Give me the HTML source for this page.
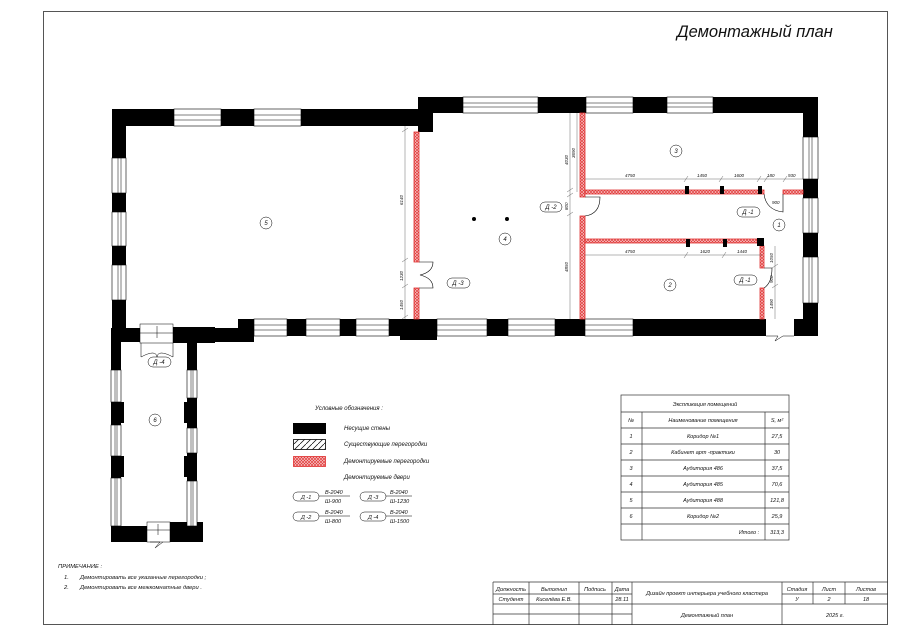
<!DOCTYPE html>
<html><head><meta charset="utf-8"><style>
html,body{margin:0;padding:0;background:#fff}
svg{display:block}
text{font-family:"Liberation Sans",sans-serif;font-style:italic;fill:#111}
</style></head><body>
<svg width="900" height="636" viewBox="0 0 900 636" xmlns="http://www.w3.org/2000/svg">
<defs>
<pattern id="red" width="3" height="3" patternUnits="userSpaceOnUse">
<rect width="3" height="3" fill="#f8d0d0"/>
<path d="M0,0L3,3M3,0L0,3" stroke="#e03838" stroke-width="0.7"/>
</pattern>
<pattern id="hat" width="6" height="6" patternUnits="userSpaceOnUse">
<path d="M0,6L6,0" stroke="#000" stroke-width="0.7"/>
</pattern>
</defs>
<rect x="43.5" y="11.5" width="844" height="613" fill="none" stroke="#555" stroke-width="1"/>
<text x="677" y="37" font-size="16.5">Демонтажный план</text>

<g fill="#000">
<rect x="112" y="109" width="321" height="17"/>
<rect x="112" y="109" width="14" height="231"/>
<rect x="418" y="97" width="15" height="35"/>
<rect x="112" y="328" width="128" height="14"/>
<rect x="238" y="319" width="16" height="23"/>
<rect x="418" y="97" width="400" height="16"/>
<rect x="803" y="97" width="15" height="239"/>
<rect x="254" y="319" width="512" height="17"/>
<rect x="400" y="319" width="37" height="21"/>
<rect x="794" y="319" width="24" height="17"/>
<rect x="111" y="328" width="10" height="214"/>
<rect x="172" y="327" width="43" height="16"/>
<rect x="187" y="327" width="10" height="200"/>
<rect x="111" y="526" width="36" height="16"/>
<rect x="170" y="522" width="33" height="20"/>
<rect x="187" y="398" width="10" height="30"/>
<rect x="184" y="402" width="4" height="21"/>
<rect x="187" y="453" width="10" height="28"/>
<rect x="184" y="456" width="4" height="21"/>
<rect x="120" y="402" width="4" height="21"/>
<rect x="120" y="456" width="4" height="21"/>
</g>

<g fill="#fff" stroke="#000" stroke-width="0.6">
<rect x="174" y="109" width="47" height="17"/><rect x="254" y="109" width="47" height="17"/>
<rect x="112" y="158" width="14" height="35"/><rect x="112" y="212" width="14" height="34"/><rect x="112" y="265" width="14" height="35"/>
<rect x="463" y="97" width="75" height="16"/><rect x="586" y="97" width="47" height="16"/><rect x="667" y="97" width="46" height="16"/>
<rect x="803" y="137" width="15" height="42"/><rect x="803" y="198" width="15" height="35"/><rect x="803" y="257" width="15" height="46"/>
<rect x="254" y="319" width="33" height="17"/><rect x="306" y="319" width="34" height="17"/><rect x="356" y="319" width="33" height="17"/>
<rect x="437" y="319" width="50" height="17"/><rect x="508" y="319" width="47" height="17"/><rect x="585" y="319" width="48" height="17"/>
<rect x="111" y="370" width="10" height="32"/><rect x="111" y="425" width="10" height="31"/><rect x="111" y="478" width="10" height="48"/>
<rect x="187" y="370" width="10" height="28"/><rect x="187" y="428" width="10" height="25"/><rect x="187" y="481" width="10" height="45"/>
</g>
<g stroke="#000" stroke-width="0.5">
<path d="M174,115H221M174,120H221M254,115H301M254,120H301"/>
<path d="M118,158V193M121,158V193M118,212V246M121,212V246M118,265V300M121,265V300"/>
<path d="M463,103H538M463,107H538M586,103H633M586,107H633M667,103H713M667,107H713"/>
<path d="M809,137V179M812,137V179M809,198V233M812,198V233M809,257V303M812,257V303"/>
<path d="M254,325H287M254,330H287M306,325H340M306,330H340M356,325H389M356,330H389M437,325H487M437,330H487M508,325H555M508,330H555M585,325H633M585,330H633"/>
<path d="M115,370V402M117,370V402M115,425V456M117,425V456M115,478V526M117,478V526M191,370V398M193,370V398M191,428V453M193,428V453M191,481V526M193,481V526"/>
</g>
<g fill="#fff" stroke="#000" stroke-width="0.5">
<rect x="140" y="324" width="33" height="19"/>
<path d="M140,333H173M157,326V338" fill="none"/>
<path d="M141,343V357Q156,349 157,357Q158,349 173,357V343" fill="none"/>
<rect x="147" y="522" width="23" height="20"/>
<path d="M147,530H170M158,524V535M150,542L160,542L155,548L163,542" fill="none"/>
<path d="M766,336H778L775,341L783,336H794" fill="none"/>
</g>

<g fill="url(#red)" stroke="#e03030" stroke-width="0.8">
<rect x="414" y="132" width="5" height="130"/><rect x="414" y="288" width="5" height="31"/>
<rect x="580" y="113" width="5" height="84"/><rect x="580" y="216" width="5" height="103"/>
<rect x="585" y="190" width="179" height="4"/><rect x="783" y="190" width="20" height="4"/>
<rect x="585" y="239" width="172" height="4"/>
<rect x="760" y="246" width="4" height="22"/><rect x="760" y="288" width="4" height="31"/>
</g>
<g fill="#000">
<rect x="685" y="186" width="4" height="8"/><rect x="720" y="186" width="4" height="8"/><rect x="758" y="186" width="4" height="8"/>
<rect x="686" y="239" width="4" height="8"/><rect x="723" y="239" width="4" height="8"/>
<rect x="757" y="238" width="7" height="8"/>
<circle cx="474" cy="219" r="2"/><circle cx="507" cy="219" r="2"/>
</g>
<g fill="none" stroke="#000" stroke-width="0.6">
<path d="M419,262H433Q433,272 420,275Q433,278 433,288H419"/>
<path d="M585,197H600Q600,214 585,216"/>
<path d="M764,194Q766,210 783,212V194"/>
<path d="M764,268H772Q772,283 764,288"/>
</g>
<g stroke="#444" stroke-width="0.4" fill="none">
<path d="M405,126V319M402,132L408,128M402,262L408,258M402,288L408,284M402,319L408,315"/>
<path d="M570,113V319M567,192L573,188M567,197L573,193M567,216L573,212"/>
<path d="M577,113V192"/>
<path d="M585,179H803M684,182L688,176M719,182L723,176M757,182L761,176M764,182L768,176M783,182L787,176"/>
<path d="M585,255H762M684,258L688,252M722,258L726,252"/>
<path d="M775,246V319M772,268L778,264M772,288L778,284"/>
</g>
<g font-size="4.5">
<text x="625" y="177">4750</text><text x="697" y="177">1450</text><text x="734" y="177">1600</text><text x="767" y="177">180</text><text x="788" y="177">930</text>
<text x="625" y="253">4750</text><text x="700" y="253">1620</text><text x="737" y="253">1440</text>
<text x="772" y="204">900</text>
<text transform="translate(568,165) rotate(-90)">4030</text>
<text transform="translate(575,158) rotate(-90)">3690</text>
<text transform="translate(568,210) rotate(-90)">800</text>
<text transform="translate(568,272) rotate(-90)">4850</text>
<text transform="translate(403,205) rotate(-90)">6140</text>
<text transform="translate(403,281) rotate(-90)">1230</text>
<text transform="translate(403,310) rotate(-90)">1450</text>
<text transform="translate(773,263) rotate(-90)">1050</text>
<text transform="translate(773,283) rotate(-90)">900</text>
<text transform="translate(773,309) rotate(-90)">1490</text>
</g>
<g fill="none" stroke="#000" stroke-width="0.5">
<circle cx="266" cy="223" r="6"/><circle cx="505" cy="239" r="6"/><circle cx="676" cy="151" r="6"/><circle cx="670" cy="285" r="6"/><circle cx="779" cy="225" r="6"/><circle cx="155" cy="420" r="6"/>
<rect x="447" y="278" width="23" height="10" rx="5"/><rect x="540" y="202" width="22" height="10" rx="5"/>
<rect x="737" y="207" width="23" height="10" rx="5"/><rect x="734" y="275" width="23" height="10" rx="5"/><rect x="148" y="357" width="23" height="10" rx="5"/>
</g>
<g font-size="6" text-anchor="middle">
<text x="266" y="225">5</text><text x="505" y="241">4</text><text x="676" y="153">3</text><text x="670" y="287">2</text><text x="779" y="227">1</text><text x="155" y="422">6</text>
<text x="458" y="285">Д -3</text><text x="551" y="209">Д -2</text><text x="748" y="214">Д -1</text><text x="745" y="282">Д -1</text><text x="159" y="364">Д -4</text>
</g>

<g font-size="6">
<text x="315" y="410">Условные обозначения :</text>
<text x="344" y="430">Несущие стены</text>
<text x="344" y="446">Существующие перегородки</text>
<text x="344" y="463">Демонтируемые перегородки</text>
<text x="344" y="479">Демонтируемые двери</text>
</g>
<rect x="293" y="423" width="33" height="11" fill="#000"/>
<rect x="293.5" y="439.5" width="32" height="10" fill="url(#hat)" stroke="#000" stroke-width="0.8"/>
<rect x="293.5" y="456.5" width="32" height="10" fill="url(#red)" stroke="#e03030" stroke-width="0.8"/>
<g fill="none" stroke="#000" stroke-width="0.5">
<rect x="293" y="492" width="26" height="9" rx="4.5"/><rect x="293" y="512" width="26" height="9" rx="4.5"/>
<rect x="360" y="492" width="26" height="9" rx="4.5"/><rect x="360" y="512" width="26" height="9" rx="4.5"/>
<path d="M319,496H350M319,516H350M386,496H412M386,516H412"/>
</g>
<g font-size="5.5">
<text x="301" y="499">Д -1</text><text x="301" y="519">Д -2</text><text x="368" y="499">Д -3</text><text x="368" y="519">Д -4</text>
<text x="325" y="494">В-2040</text><text x="325" y="503">Ш-900</text><text x="325" y="514">В-2040</text><text x="325" y="523">Ш-800</text>
<text x="390" y="494">В-2040</text><text x="390" y="503">Ш-1230</text><text x="390" y="514">В-2040</text><text x="390" y="523">Ш-1500</text>
</g>

<g fill="none" stroke="#333" stroke-width="0.7">
<rect x="621" y="395" width="168" height="145"/>
<path d="M621,412H789M621,428H789M621,444H789M621,460H789M621,476H789M621,492H789M621,508H789M621,524H789"/>
<path d="M642,412V540M765,412V540"/>
</g>
<g font-size="5.5" text-anchor="middle">
<text x="705" y="406">Экспликация помещений</text>
<text x="631" y="422">№</text><text x="703" y="422">Наименование помещения</text><text x="777" y="422">S, м²</text>
<text x="631" y="438">1</text><text x="703" y="438">Коридор  №1</text><text x="777" y="438">27,5</text>
<text x="631" y="454">2</text><text x="703" y="454">Кабинет арт -практики</text><text x="777" y="454">30</text>
<text x="631" y="470">3</text><text x="703" y="470">Аудитория  486</text><text x="777" y="470">37,5</text>
<text x="631" y="486">4</text><text x="703" y="486">Аудитория  485</text><text x="777" y="486">70,6</text>
<text x="631" y="502">5</text><text x="703" y="502">Аудитория  488</text><text x="777" y="502">121,8</text>
<text x="631" y="518">6</text><text x="703" y="518">Коридор  №2</text><text x="777" y="518">25,9</text>
<text x="749" y="534">Итого :</text><text x="777" y="534">313,3</text>
</g>

<g font-size="5.8">
<text x="58" y="568">ПРИМЕЧАНИЕ :</text>
<text x="64" y="579">1.</text><text x="80" y="579">Демонтировать все указанные перегородки ;</text>
<text x="64" y="589">2.</text><text x="80" y="589">Демонтировать все межкомнатные двери .</text>
</g>

<g fill="none" stroke="#333" stroke-width="0.7">
<path d="M493,582H888M493,594H632M782,594H888M493,604H888M493,614H632"/>
<path d="M493,582V625M529,582V625M579,582V625M612,582V625M632,582V625M782,582V625M813,582V604M845,582V604"/>
</g>
<g font-size="5.5" text-anchor="middle">
<text x="511" y="591">Должность</text><text x="554" y="591">Выполнил</text><text x="595" y="591">Подпись</text><text x="622" y="591">Дата</text>
<text x="511" y="601">Студент</text><text x="554" y="601">Киселёва Е.В.</text><text x="622" y="601">28.11</text>
<text x="707" y="595">Дизайн проект интерьера учебного кластера</text>
<text x="707" y="617">Демонтажный план</text>
<text x="797" y="591">Стадия</text><text x="829" y="591">Лист</text><text x="866" y="591">Листов</text>
<text x="797" y="601">У</text><text x="829" y="601">2</text><text x="866" y="601">18</text>
<text x="835" y="617">2025 г.</text>
</g>
</svg>
</body></html>
